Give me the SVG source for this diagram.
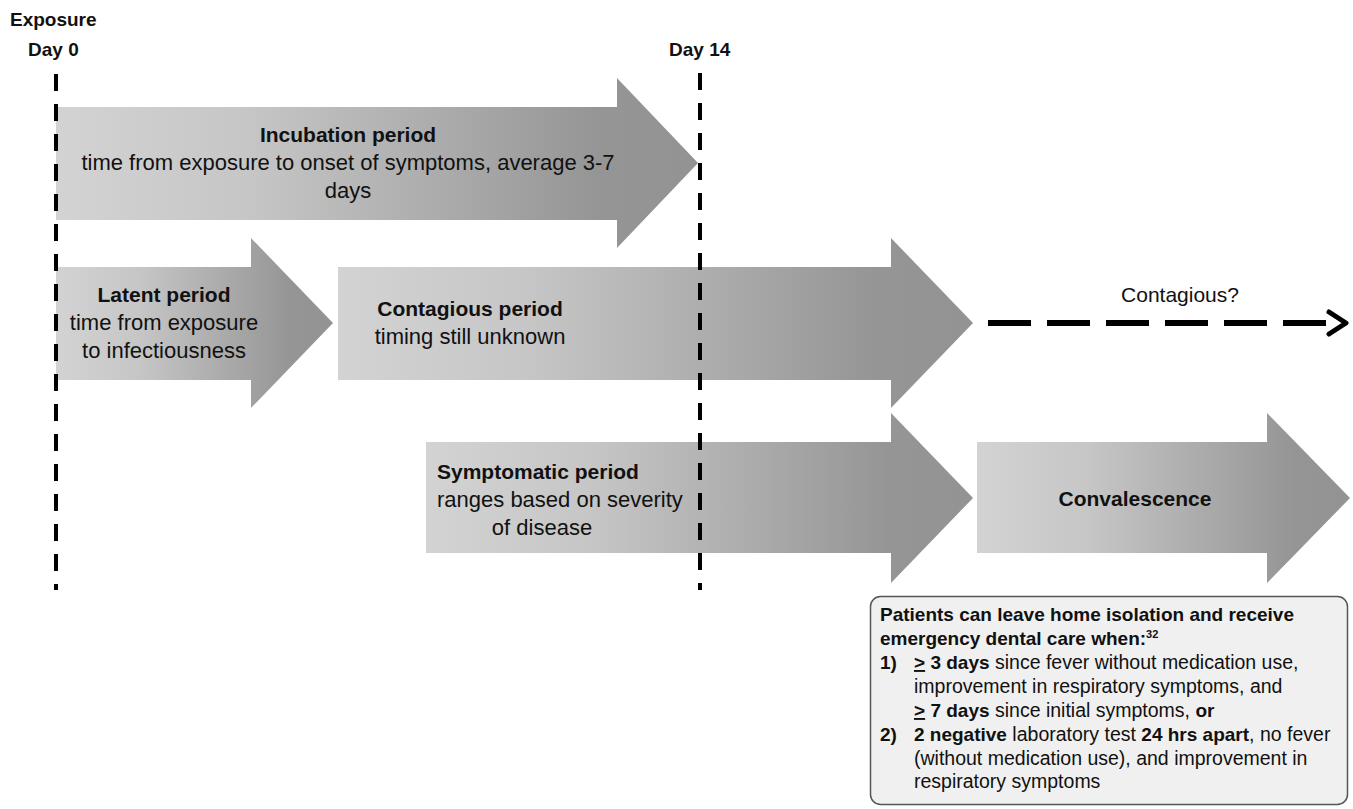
<svg xmlns="http://www.w3.org/2000/svg" width="1353" height="809" viewBox="0 0 1353 809">
<defs>
<linearGradient id="g" x1="0" y1="0" x2="1" y2="0">
<stop offset="0" stop-color="#d3d3d3"/>
<stop offset="0.3" stop-color="#c6c6c6"/>
<stop offset="0.85" stop-color="#959595"/>
<stop offset="1" stop-color="#939393"/>
</linearGradient>
<style>
text{font-family:"Liberation Sans",Arial,sans-serif;fill:#111}
.b{font-weight:bold;font-size:21px}
.r{font-size:22px}
.c{text-anchor:middle}
.arr{fill:url(#g)}
.day{stroke:#000;stroke-width:4;stroke-dasharray:17 13;fill:none}
.bb{font-weight:bold;font-size:19px}
.bx{font-size:19.5px}
</style>
</defs>
<rect width="1353" height="809" fill="#fff"/>
<g id="labels">
<text x="10" y="26" class="b" style="font-size:19px">Exposure</text>
<text x="28" y="56" class="b" style="font-size:19px">Day 0</text>
<text x="669" y="56" class="b" style="font-size:19px">Day 14</text>
</g>
<g id="incubation">
<path class="arr" d="M56,107 H617 V78 L698,163 L617,248 V220 H56 Z"/>
<text x="348" y="142" class="b c">Incubation period</text>
<text x="348" y="170" class="r c">time from exposure to onset of symptoms, average 3-7</text>
<text x="348" y="198" class="r c">days</text>
</g>
<g id="latent">
<path class="arr" d="M56,267 H251 V238 L333,323 L251,408 V380 H56 Z"/>
<text x="164" y="302" class="b c">Latent period</text>
<text x="164" y="330" class="r c">time from exposure</text>
<text x="164" y="358" class="r c">to infectiousness</text>
</g>
<g id="contagious">
<path class="arr" d="M338,267 H891 V238 L973,323 L891,408 V380 H338 Z"/>
<text x="470" y="316" class="b c">Contagious period</text>
<text x="470" y="344" class="r c">timing still unknown</text>
</g>
<g id="contagious-q">
<text x="1180" y="302" class="r c" style="font-size:21px">Contagious?</text>
</g>
<g id="symptomatic">
<path class="arr" d="M426,442 H891 V413 L973,498 L891,583 V553 H426 Z"/>
<text x="437" y="479" class="b">Symptomatic period</text>
<text x="437" y="507" class="r">ranges based on severity</text>
<text x="542" y="535" class="r c">of disease</text>
</g>
<g id="convalescence">
<path class="arr" d="M977,442 H1267 V413 L1350,498 L1267,583 V553 H977 Z"/>
<text x="1135" y="506" class="b c">Convalescence</text>
</g>
<g id="criteria">
<rect x="870.5" y="596.5" width="477" height="208" rx="10" fill="#f0f0f0" stroke="#555" stroke-width="1.5"/>
<text x="880" y="621" class="bb">Patients can leave home isolation and receive</text>
<text x="880" y="645" class="bb">emergency dental care when:<tspan dy="-7" style="font-size:11px">32</tspan></text>
<text x="880" y="669" class="bb">1)</text>
<text x="914" y="669" class="bx"><tspan font-weight="bold" font-size="19" text-decoration="underline">&gt;</tspan><tspan font-weight="bold" font-size="19"> 3 days</tspan> since fever without medication use,</text>
<text x="914" y="693" class="bx">improvement in respiratory symptoms, and</text>
<text x="914" y="717" class="bx"><tspan font-weight="bold" font-size="19" text-decoration="underline">&gt;</tspan><tspan font-weight="bold" font-size="19"> 7 days</tspan> since initial symptoms, <tspan font-weight="bold" font-size="19">or</tspan></text>
<text x="880" y="741" class="bb">2)</text>
<text x="914" y="741" class="bx"><tspan font-weight="bold" font-size="19">2 negative</tspan> laboratory test <tspan font-weight="bold" font-size="19">24 hrs apart</tspan>, no fever</text>
<text x="914" y="765" class="bx">(without medication use), and improvement in</text>
<text x="914" y="788" class="bx">respiratory symptoms</text>
</g>
<g id="connectors">
<line class="day" x1="56" y1="74" x2="56" y2="590"/>
<line class="day" x1="700" y1="73" x2="700" y2="590"/>
<line x1="988" y1="323" x2="1343" y2="323" stroke="#000" stroke-width="6" stroke-dasharray="43 16"/>
<polyline points="1329,312 1346,323 1329,334" fill="none" stroke="#000" stroke-width="5" stroke-linecap="round" stroke-linejoin="round"/>
</g>
</svg>
